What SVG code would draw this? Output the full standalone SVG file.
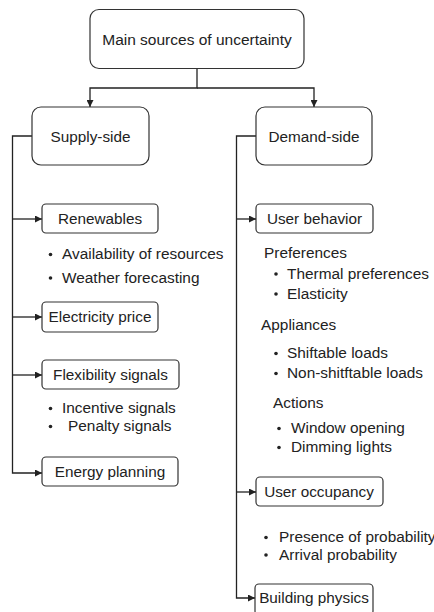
<svg xmlns="http://www.w3.org/2000/svg" width="434" height="612" viewBox="0 0 434 612">
<defs>
<style>
.box{fill:#fff;stroke:#333;stroke-width:1.2}
.t{font-family:"Liberation Sans",Arial,sans-serif;font-size:15.3px;fill:#222}
.b{font-family:"Liberation Sans",Arial,sans-serif;font-size:15.4px;fill:#222}
.c{fill:none;stroke:#222;stroke-width:1.3}
.dot{fill:#222}
</style>
<marker id="ah" viewBox="0 0 10 10" refX="10" refY="5" markerWidth="7" markerHeight="7" markerUnits="userSpaceOnUse" orient="auto">
<path d="M0,0 L10,5 L0,10 Z" fill="#222"/>
</marker>
</defs>
<rect width="434" height="612" fill="#fff"/>
<g id="connectors">
<path class="c" d="M197,68 V88 H90 V107" marker-end="url(#ah)"/>
<path class="c" d="M197,88 H314 V107" marker-end="url(#ah)"/>
<path class="c" d="M32,136 H12.5 V473 H42" marker-end="url(#ah)"/>
<path class="c" d="M12.5,219 H42" marker-end="url(#ah)"/>
<path class="c" d="M12.5,317 H42" marker-end="url(#ah)"/>
<path class="c" d="M12.5,375 H42" marker-end="url(#ah)"/>
<path class="c" d="M256,136 H236.5 V598 H255" marker-end="url(#ah)"/>
<path class="c" d="M236.5,219 H256" marker-end="url(#ah)"/>
<path class="c" d="M236.5,492 H256" marker-end="url(#ah)"/>
</g>
<g id="main">
<rect class="box" x="90" y="9.5" width="214" height="59" rx="9"/>
<text class="t" x="197" y="45" text-anchor="middle" style="font-size:15.5px">Main sources of uncertainty</text>
</g>
<g id="supply">
<rect class="box" x="32" y="107" width="117" height="58" rx="9"/>
<text class="t" x="90.5" y="142" text-anchor="middle">Supply-side</text>
</g>
<g id="demand">
<rect class="box" x="256" y="107" width="116" height="58" rx="9"/>
<text class="t" x="314" y="142" text-anchor="middle">Demand-side</text>
</g>
<g id="renewables">
<rect class="box" x="42" y="204" width="116" height="29" rx="4"/>
<text class="t" x="100" y="224" text-anchor="middle">Renewables</text>
</g>
<g id="renewables-items">
<circle class="dot" cx="50.5" cy="254.5" r="1.8"/>
<text class="b" x="62" y="259">Availability of resources</text>
<circle class="dot" cx="50.5" cy="278" r="1.8"/>
<text class="b" x="62" y="282.5">Weather forecasting</text>
</g>
<g id="electricity">
<rect class="box" x="42" y="302" width="116" height="30" rx="4"/>
<text class="t" x="100" y="322" text-anchor="middle">Electricity price</text>
</g>
<g id="flexibility">
<rect class="box" x="42" y="360" width="137" height="29" rx="4"/>
<text class="t" x="110.5" y="380" text-anchor="middle">Flexibility signals</text>
</g>
<g id="flexibility-items">
<circle class="dot" cx="50.5" cy="408.5" r="1.8"/>
<text class="b" x="62" y="413">Incentive signals</text>
<circle class="dot" cx="50.5" cy="426.5" r="1.8"/>
<text class="b" x="68" y="431">Penalty signals</text>
</g>
<g id="energy-planning">
<rect class="box" x="42" y="457" width="136" height="29" rx="4"/>
<text class="t" x="110" y="477" text-anchor="middle">Energy planning</text>
</g>
<g id="user-behavior">
<rect class="box" x="256" y="204" width="117" height="29" rx="4"/>
<text class="t" x="314.5" y="224" text-anchor="middle">User behavior</text>
</g>
<g id="user-behavior-items">
<text class="b" x="264" y="258">Preferences</text>
<circle class="dot" cx="276" cy="274" r="1.8"/>
<text class="b" x="287" y="278.5">Thermal preferences</text>
<circle class="dot" cx="276" cy="294" r="1.8"/>
<text class="b" x="287" y="298.5">Elasticity</text>
<text class="b" x="261" y="330">Appliances</text>
<circle class="dot" cx="276" cy="353.5" r="1.8"/>
<text class="b" x="287" y="358">Shiftable loads</text>
<circle class="dot" cx="276" cy="373.5" r="1.8"/>
<text class="b" x="287" y="378">Non-shitftable loads</text>
<text class="b" x="273" y="408">Actions</text>
<circle class="dot" cx="279" cy="428.5" r="1.8"/>
<text class="b" x="291" y="433">Window opening</text>
<circle class="dot" cx="279" cy="447.5" r="1.8"/>
<text class="b" x="291" y="452">Dimming lights</text>
</g>
<g id="user-occupancy">
<rect class="box" x="256" y="477" width="127" height="29" rx="4"/>
<text class="t" x="319" y="497" text-anchor="middle">User occupancy</text>
</g>
<g id="user-occupancy-items">
<circle class="dot" cx="266" cy="537.5" r="1.8"/>
<text class="b" x="279" y="542">Presence of probability</text>
<circle class="dot" cx="266" cy="555" r="1.8"/>
<text class="b" x="279" y="559.5">Arrival probability</text>
</g>
<g id="building-physics">
<rect class="box" x="255" y="584" width="118" height="31" rx="4"/>
<text class="t" x="314" y="603" text-anchor="middle">Building physics</text>
</g>
</svg>
